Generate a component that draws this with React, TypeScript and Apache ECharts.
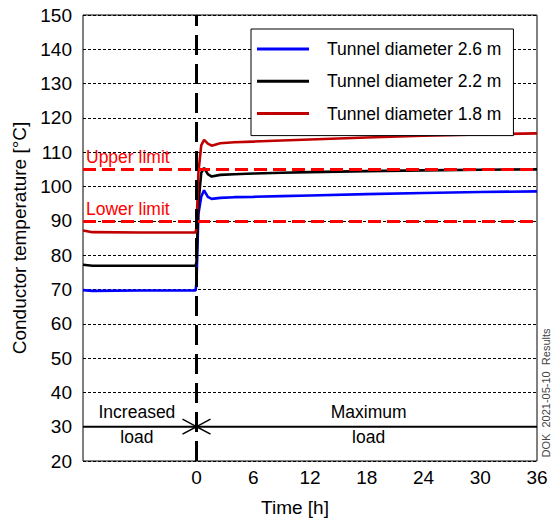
import React, { useEffect, useRef } from "react";
import * as echarts from "echarts";

const timeHours = [-12, -11, -6, -0.1, 0, 0.2, 0.5, 0.8, 1.2, 1.6, 2.5, 4, 6, 9, 12, 18, 24, 30, 36];
const tunnel26 = [69.8, 69.6, 69.7, 69.7, 72, 92, 97, 98.9, 97.0, 96.4, 96.7, 96.9, 97.0, 97.2, 97.4, 97.8, 98.1, 98.4, 98.6];
const tunnel22 = [77.2, 76.9, 76.9, 76.9, 78, 95, 104, 105.4, 103.6, 102.9, 103.4, 103.6, 103.8, 104.0, 104.2, 104.5, 104.7, 104.9, 105.0];
const tunnel18 = [87.2, 86.7, 86.6, 86.6, 88, 104, 112, 113.6, 112.5, 111.9, 112.6, 112.9, 113.1, 113.4, 113.7, 114.3, 114.8, 115.2, 115.5];

const seriesNames = ["Tunnel diameter 2.6 m", "Tunnel diameter 2.2 m", "Tunnel diameter 1.8 m"];
const seriesColors = ["#0000ff", "#000000", "#c00000"];

const upperLimit = 105;
const lowerLimit = 90;
const loadSwitchTime = 0;
const arrowSpans = [[-12, 0, 30], [36, 0, 30]];
const phaseLabels = [
  { name: "Increased\nload", value: [-6.3, 30] },
  { name: "Maximum\nload", value: [18.2, 30] },
];

const FONT = "'Liberation Sans', Arial, sans-serif";

export default function App() {
  const ref = useRef<HTMLDivElement>(null);
  useEffect(() => {
    if (!ref.current) return;
    const chart = echarts.init(ref.current, null, { renderer: "svg" });
    const mk = (vals: number[]) => timeHours.map((t, i) => [t, vals[i]]);
    const lineSeries = [tunnel26, tunnel22, tunnel18].map((vals, i) => ({
      name: seriesNames[i],
      type: "line",
      data: mk(vals),
      symbol: "none",
      lineStyle: { color: seriesColors[i], width: 2.6 },
      itemStyle: { color: seriesColors[i] },
      z: 4,
    }));
    chart.setOption({
      animation: false,
      textStyle: { fontFamily: FONT },
      grid: { left: 83, right: 14, top: 15, bottom: 58, show: true, borderColor: "#000", borderWidth: 1 },
      legend: {
        data: seriesNames,
        orient: "vertical",
        left: 251,
        top: 29,
        padding: [11, 12, 13, 6],
        itemGap: 14.3,
        icon: "rect",
        itemWidth: 52,
        itemHeight: 3,
        borderColor: "#000",
        borderWidth: 1,
        borderRadius: 0,
        backgroundColor: "#fff",
        textStyle: { fontSize: 17.5, color: "#000", fontFamily: FONT, padding: [0, 0, 0, 13] },
        z: 10,
      },
      xAxis: {
        type: "value",
        min: -12,
        max: 36,
        interval: 6,
        name: "Time [h]",
        nameLocation: "middle",
        nameGap: 37,
        nameTextStyle: { fontSize: 19, color: "#000", fontFamily: FONT, padding: [0, 30, 0, 0] },
        axisLine: { show: false },
        axisTick: { show: false },
        splitLine: { show: false },
        axisLabel: {
          fontSize: 19,
          color: "#000",
          margin: 7,
          fontFamily: FONT,
          formatter: (v: number) => (v < 0 ? "" : String(v)),
        },
      },
      yAxis: {
        type: "value",
        min: 20,
        max: 150,
        interval: 10,
        name: "Conductor temperature [°C]",
        nameLocation: "middle",
        nameGap: 51,
        nameTextStyle: { fontSize: 19, color: "#000", fontFamily: FONT },
        axisLine: { show: false },
        axisTick: { show: false },
        axisLabel: { fontSize: 19, color: "#000", margin: 11, fontFamily: FONT },
        splitLine: { show: true, lineStyle: { color: "#000", type: [3, 2], width: 1 } },
      },
      graphic: [
        {
          type: "text",
          x: 546,
          y: 393,
          rotation: Math.PI / 2,
          style: {
            text: "DOK  2021-05-10  Results",
            fontSize: 11,
            fill: "#444",
            fontFamily: FONT,
            align: "center",
            verticalAlign: "middle",
          },
        },
      ],
      series: [
        {
          type: "line",
          data: [],
          silent: true,
          markLine: {
            silent: true,
            symbol: ["none", "none"],
            data: [
              { yAxis: upperLimit, label: { formatter: "Upper limit" } },
              { yAxis: lowerLimit, label: { formatter: "Lower limit" } },
            ],
            lineStyle: { color: "#ff0000", type: [13, 6], width: 3 },
            label: {
              show: true,
              position: "insideStartTop",
              color: "#ff0000",
              fontSize: 17.5,
              fontFamily: FONT,
              distance: 3,
            },
          },
          z: 3,
        },
        {
          type: "line",
          data: [],
          silent: true,
          markLine: {
            silent: true,
            symbol: ["none", "none"],
            data: [{ xAxis: loadSwitchTime }],
            lineStyle: { color: "#000", type: [20, 9], width: 3 },
            label: { show: false },
          },
          z: 5,
        },
        {
          type: "custom",
          silent: true,
          data: arrowSpans,
          encode: { x: [0, 1], y: 2 },
          renderItem: (params: any, api: any) => {
            const s = api.coord([api.value(0), api.value(2)]);
            const e = api.coord([api.value(1), api.value(2)]);
            const d = e[0] > s[0] ? 1 : -1;
            return {
              type: "group",
              children: [
                { type: "line", shape: { x1: s[0], y1: s[1], x2: e[0], y2: e[1] }, style: { stroke: "#000", lineWidth: 2 } },
                {
                  type: "polyline",
                  shape: { points: [[e[0] - d * 14, e[1] - 7.5], [e[0], e[1]], [e[0] - d * 14, e[1] + 7.5]] },
                  style: { stroke: "#000", lineWidth: 1.5, fill: "none" },
                },
              ],
            };
          },
          z: 3,
        },
        {
          type: "scatter",
          silent: true,
          data: phaseLabels,
          symbolSize: 1,
          itemStyle: { color: "#000", opacity: 0 },
          label: {
            show: true,
            position: "inside",
            formatter: "{b}",
            fontSize: 17.5,
            lineHeight: 25,
            color: "#000",
            opacity: 1,
            textBorderWidth: 0,
            fontFamily: FONT,
            offset: [0, -2],
          },
          z: 6,
        },
        ...lineSeries,
      ],
    });
    return () => chart.dispose();
  }, []);
  return <div ref={ref} style={{ position: "absolute", left: 0, top: 0, width: 551, height: 522 }} />;
}
